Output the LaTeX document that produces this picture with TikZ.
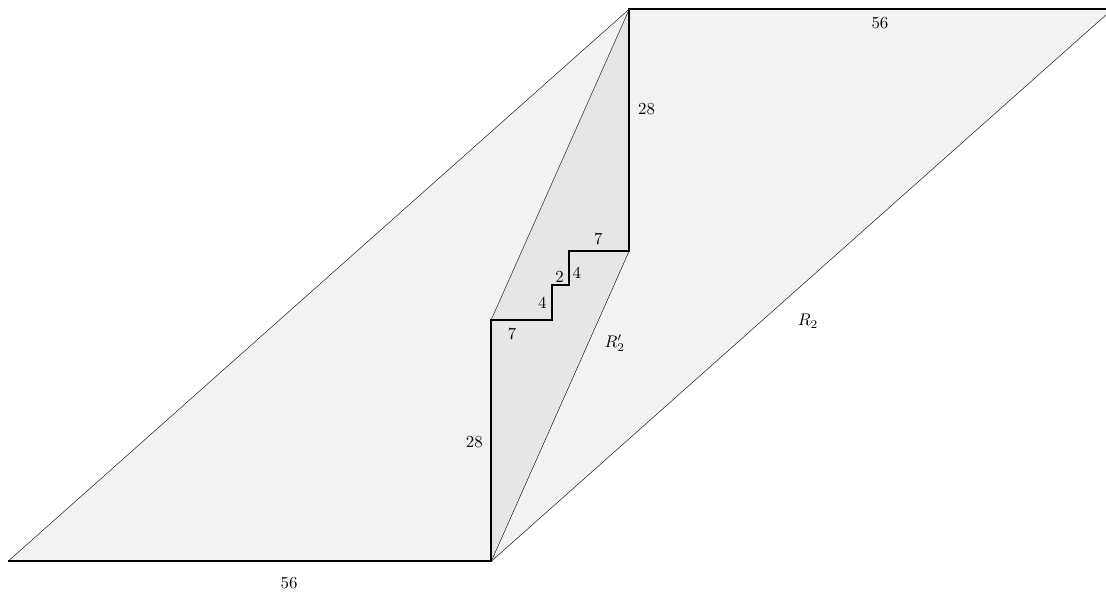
\documentclass[tikz,border=0pt]{standalone}
\usepackage{xcolor}
\usepackage{tikz}
\usetikzlibrary{calc}
\definecolor{RegLt}{HTML}{F2F2F2}
\definecolor{RegDk}{HTML}{E6E6E6}

\begin{document}
\begin{tikzpicture}[x=0.18cm,y=0.18cm,
  edge/.style={draw=black,line width=0.25pt},
  bold/.style={draw=black,line width=1.1pt},
  lbl/.style={font=\normalsize,text=black,inner sep=0pt}
]
  \useasboundingbox (-0.93,-3.67) rectangle (127.23,65.04);

  % Corners
  \coordinate (bl) at (0,0);
  \coordinate (br) at (56,0);
  \coordinate (tl) at (72,64);
  \coordinate (tr) at (128,64);
  \coordinate (s0) at (56,28);
  \coordinate (s1) at (63,28);
  \coordinate (s2) at (63,32);
  \coordinate (s3) at (65,32);
  \coordinate (s4) at (65,36);
  \coordinate (s5) at (72,36);

  % Regions
  \fill[RegLt] (bl) -- (br) -- (tr) -- (tl) -- cycle;
  \fill[RegDk] (br) -- (s5) -- (tl) -- (s0) -- cycle;

  % Thin edges
  \draw[edge] (bl) -- (tl);
  \draw[edge] (br) -- (tr);
  \draw[edge] (br) -- (s5);
  \draw[edge] (s0) -- (tl);

  % Staircase
  \draw[bold] (bl) -- (br) -- (s0) -- (s1) -- (s2) -- (s3) -- (s4) -- (s5) -- (tl) -- (tr);

  % Labels
  \node[lbl] at (32.56,-2.55) {56};
  \node[lbl] at (101.04,62.34) {56};
  \node[lbl] at (74.0,52.4) {28};
  \node[lbl] at (54.03,13.79) {28};
  \node[lbl] at (68.4,37.3) {7};
  \node[lbl] at (65.9,33.4) {4};
  \node[lbl] at (63.9,32.9) {2};
  \node[lbl] at (61.9,29.9) {4};
  \node[lbl] at (58.4,26.3) {7};
  \node[lbl] at (70.3,25.3) {$R_2'$};
  \node[lbl] at (92.7,27.8) {$R_2$};
\end{tikzpicture}
\end{document}
